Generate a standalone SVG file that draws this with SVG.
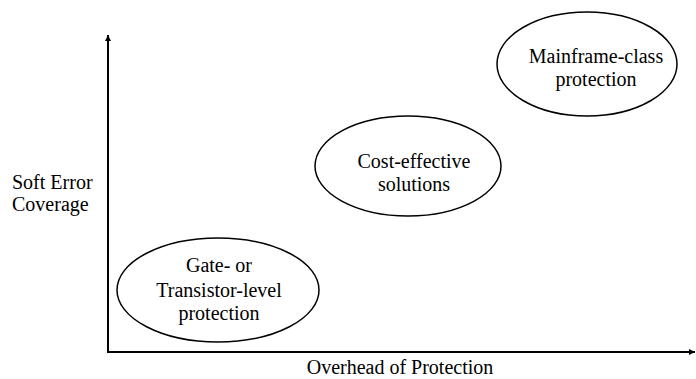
<svg xmlns="http://www.w3.org/2000/svg" width="696" height="379" viewBox="0 0 696 379" font-family="'Liberation Serif', 'Times New Roman', serif">
<style>
text{font-family:"Liberation Serif","Times New Roman",serif;font-size:20px;fill:#000}
.c{text-anchor:middle}
.node ellipse{fill:#fff;stroke:#000;stroke-width:1.5}
.axis{stroke:#000;stroke-width:2;fill:none}
</style>
<defs>
<marker id="ah" viewBox="0 0 10 10" refX="10" refY="5" markerWidth="6" markerHeight="6" markerUnits="userSpaceOnUse" orient="auto">
<path d="M0,0 L10,5 L0,10 z" fill="#000"/>
</marker>
</defs>
<rect width="696" height="379" fill="#fff"/>
<g id="axes">
<line class="axis" x1="108" y1="352" x2="108" y2="35" marker-end="url(#ah)"/>
<line class="axis" x1="107" y1="352" x2="695" y2="352" marker-end="url(#ah)"/>
</g>
<g id="y-label" font-family="'Liberation Serif', serif">
<text x="12" y="189">Soft Error</text>
<text x="12" y="211">Coverage</text>
</g>
<g id="x-label" font-family="'Liberation Serif', serif">
<text class="c" x="400" y="374">Overhead of Protection</text>
</g>
<g id="gate" class="node" font-family="'Liberation Serif', serif">
<ellipse cx="218" cy="290" rx="101" ry="52"/>
<text class="c" x="219" y="272" font-family="'Liberation Serif', serif">Gate- or</text>
<text class="c" x="219" y="297" font-family="'Liberation Serif', serif">Transistor-level</text>
<text class="c" x="219" y="320" font-family="'Liberation Serif', serif">protection</text>
</g>
<g id="cost" class="node" font-family="'Liberation Serif', serif">
<ellipse cx="408" cy="166" rx="93" ry="50"/>
<text class="c" x="414" y="168" font-family="'Liberation Serif', serif">Cost-effective</text>
<text class="c" x="414" y="191" font-family="'Liberation Serif', serif">solutions</text>
</g>
<g id="mainframe" class="node" font-family="'Liberation Serif', serif">
<ellipse cx="587" cy="64" rx="90" ry="52"/>
<text class="c" x="596" y="63" font-family="'Liberation Serif', serif">Mainframe-class</text>
<text class="c" x="596" y="86" font-family="'Liberation Serif', serif">protection</text>
</g>
</svg>
